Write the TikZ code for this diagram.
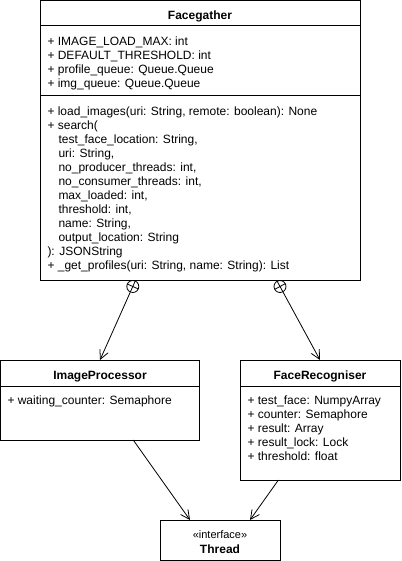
\documentclass[tikz,border=0pt]{standalone}
\usepackage{fontspec}
\setmainfont{Liberation Sans}
\usetikzlibrary{arrows.meta,calc}
\begin{document}
\begin{tikzpicture}[x=1pt,y=-1pt,line width=1pt,
  box/.style={draw,rectangle,anchor=north west,inner sep=0pt,outer sep=0pt},
  ttl/.style={font=\fontsize{12}{14}\selectfont\bfseries,anchor=base,inner sep=0pt},
  txt/.style={font=\fontsize{12}{14}\selectfont,align=left,anchor=base west,inner sep=0pt},
  arr/.style={-{Straight Barb[length=9pt,width=9pt]},line width=0.8pt},
  nest/.style={draw,circle,minimum size=12pt,inner sep=0pt,line width=0.8pt}]
\useasboundingbox (0,0) rectangle (401,561);
% Facegather
\node[box,minimum width=320pt,minimum height=279.5pt] (fg) at (40,0.5) {};
\draw (fg.west |- 0,26) -- (fg.east |- 0,26);
\draw (fg.west |- 0,96) -- (fg.east |- 0,96);
\node[ttl] (fgt) at (200,19.5) {Facegather};
% multi-line texts are placed by the baseline of their last line
\node[txt] (fga) at (47,87.5) {+ IMAGE\_LOAD\_MAX: int\\+ DEFAULT\_THRESHOLD: int\\+ profile\_queue: Queue.Queue\\+ img\_queue: Queue.Queue};
\node[txt] (fgm) at (47,269.5) {+ load\_images(uri: String, remote: boolean): None\\+ search(\\\hspace*{11pt}test\_face\_location: String,\\\hspace*{11pt}uri: String,\\\hspace*{11pt}no\_producer\_threads: int,\\\hspace*{11pt}no\_consumer\_threads: int,\\\hspace*{11pt}max\_loaded: int,\\\hspace*{11pt}threshold: int,\\\hspace*{11pt}name: String,\\\hspace*{11pt}output\_location: String\\): JSONString\\+ \_get\_profiles(uri: String, name: String): List};
% ImageProcessor
\node[box,minimum width=199pt,minimum height=80pt] (ip) at (0.5,360) {};
\draw (ip.west |- 0,386) -- (ip.east |- 0,386);
\node[ttl] (ipt) at (ip.north |- 0,379.5) {ImageProcessor};
\node[txt] (ipa) at (7,404) {+ waiting\_counter: Semaphore};
% FaceRecogniser
\node[box,minimum width=160pt,minimum height=120pt] (fr) at (240,360) {};
\draw (fr.west |- 0,386) -- (fr.east |- 0,386);
\node[ttl] (frt) at (fr.north |- 0,379.5) {FaceRecogniser};
\node[txt] (fra) at (247,460) {+ test\_face: NumpyArray\\+ counter: Semaphore\\+ result: Array\\+ result\_lock: Lock\\+ threshold: float};
% Thread
\node[box,minimum width=120pt,minimum height=40pt] (th) at (160,520) {};
\node[font=\fontsize{11}{14}\selectfont,anchor=base,inner sep=0pt] (ths) at (th.north |- 0,538) {«interface»};
\node[ttl] (thn) at (th.north |- 0,553) {Thread};
% nesting connectors
\node[nest] (c1) at ($(fg.south west)!0.29!(fg.south east)+(0,6.5)$) {};
\node[nest] (c2) at ($(fg.south west)!0.75!(fg.south east)+(0,6.5)$) {};
\foreach \c/\t in {c1/ip,c2/fr}{
  \draw[line width=0.8pt] ($(\c.center)!6pt!(\t.north)$) -- ($(\c.center)!-6pt!(\t.north)$);
  \draw[line width=0.8pt] ($(\c.center)!6pt!90:(\t.north)$) -- ($(\c.center)!6pt!-90:(\t.north)$);
  \draw[arr] (\c) -- (\t.north);
}
% realisation arrows to Thread
\draw[arr] ($(ip.south west)!0.667!(ip.south east)$) -- ($(th.north west)!0.25!(th.north east)$);
\draw[arr] ($(fr.south west)!0.24!(fr.south east)$) -- ($(th.north west)!0.75!(th.north east)$);
\end{tikzpicture}
\end{document}
